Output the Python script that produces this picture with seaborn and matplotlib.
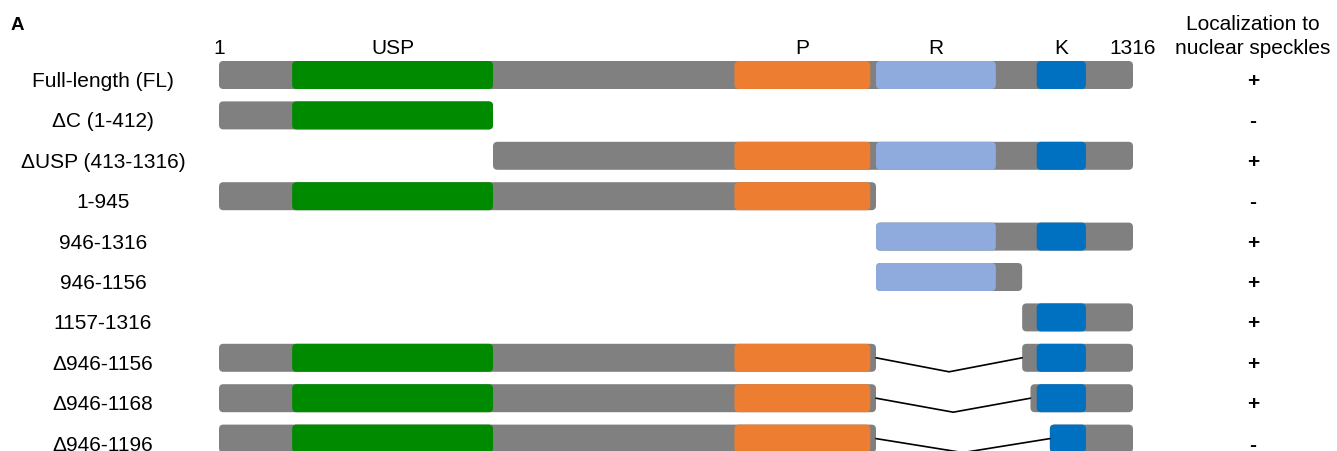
import numpy as np
import matplotlib
matplotlib.use("Agg")
import matplotlib.pyplot as plt
from matplotlib.patches import FancyBboxPatch
from matplotlib.transforms import blended_transform_factory
import seaborn as sns

# ---- data -------------------------------------------------------------
constructs = ["Full-length (FL)", "\u0394C (1-412)", "\u0394USP (413-1316)", "1-945",
              "946-1316", "946-1156", "1157-1316", "\u0394946-1156",
              "\u0394946-1168", "\u0394946-1196"]
# retained residue ranges of each construct
segments = [
    [(1, 1316)],
    [(1, 412)],
    [(413, 1316)],
    [(1, 945)],
    [(946, 1316)],
    [(946, 1156)],
    [(1157, 1316)],
    [(1, 945), (1157, 1316)],
    [(1, 945), (1169, 1316)],
    [(1, 945), (1197, 1316)],
]
localization = ["+", "-", "+", "-", "+", "+", "+", "+", "+", "-"]

domain_names = ["USP", "P", "R", "K"]
domain_start = [111, 749, 946, 1178]
domain_end = [412, 937, 1118, 1248]
domain_colors = ["#008A00", "#ED7D31", "#8FAADC", "#0070C0"]
backbone_color = "#808080"
protein_length = 1316

# schematic (not-to-scale) residue axis: breakpoints of the drawing
axis_residues = [0, 412, 945, 1316]
axis_units = [0, 274, 657, 914]

# ---- style ------------------------------------------------------------
sns.set_theme(style="white")
plt.rcParams["font.family"] = ["Liberation Sans", "DejaVu Sans"]
plt.rcParams["text.color"] = "black"

W, H = 1337, 452
fig = plt.figure(figsize=(W / 100, H / 100), dpi=100)
ax = fig.add_axes([219 / W, 0, 914 / W, 1])

ax.set_xscale("function",
              functions=(lambda v: np.interp(v, axis_residues, axis_units),
                         lambda u: np.interp(u, axis_units, axis_residues)))
ax.set_xlim(0, protein_length)

row0, row_step = 76, 40.4           # row centre of first construct, spacing
ax.set_ylim((H - row0) / row_step, -row0 / row_step)
ax.set_axis_off()

bar_h = 28 / row_step
px_per_res = 0.695
r_x = 4.5 / px_per_res
aspect = (4.5 / row_step) / r_x


def rounded(x0, x1, y, color, z):
    p = FancyBboxPatch((x0, y - bar_h / 2), x1 - x0, bar_h,
                       boxstyle=f"round,pad=0,rounding_size={r_x}",
                       mutation_aspect=aspect, facecolor=color,
                       edgecolor="none", linewidth=0, zorder=z)
    ax.add_patch(p)


for i, segs in enumerate(segments):
    for (a, b) in segs:
        rounded(a - 1, b, i, backbone_color, 2)
        for ds, de, col in zip(domain_start, domain_end, domain_colors):
            s, e = max(a, ds), min(b, de)
            if e > s:
                rounded(s - 1, e, i, col, 3)
    # deletion junction drawn as a V between retained pieces
    for (a1, b1), (a2, b2) in zip(segs[:-1], segs[1:]):
        xl, xr = b1, a2 - 1
        ax.plot([xl, (xl + xr) / 2, xr], [i, i + bar_h / 2, i],
                color="black", lw=1.2, zorder=4, clip_on=False,
                solid_joinstyle="miter")

fs = 15
text_off = 11 / row_step
ytop = (54 - row0) / row_step

# header residue numbers and domain names
ax.text(1, ytop, "1", ha="center", va="baseline", fontsize=fs, clip_on=False)
ax.text(protein_length, ytop, str(protein_length), ha="center", va="baseline",
        fontsize=fs, clip_on=False)
for name, ds, de in zip(domain_names, domain_start, domain_end):
    ax.text((ds - 1 + de) / 2, ytop, name, ha="center", va="baseline",
            fontsize=fs, clip_on=False)

tr = blended_transform_factory(fig.transFigure, ax.transData)
for i, (lab, loc) in enumerate(zip(constructs, localization)):
    ax.text(103 / W, i + text_off, lab, transform=tr, ha="center",
            va="baseline", fontsize=fs)
    ax.text(1253 / W, i + text_off, loc, transform=tr, ha="center",
            va="baseline", fontsize=fs, fontweight="bold")

ax.text(1253 / W, (30 - row0) / row_step, "Localization to", transform=tr,
        ha="center", va="baseline", fontsize=fs)
ax.text(1253 / W, ytop, "nuclear speckles", transform=tr,
        ha="center", va="baseline", fontsize=fs)
ax.text(11 / W, (30 - row0) / row_step, "A", transform=tr, ha="left",
        va="baseline", fontsize=13.5, fontweight="bold")

fig.savefig("out.png", dpi=100, facecolor="white")
